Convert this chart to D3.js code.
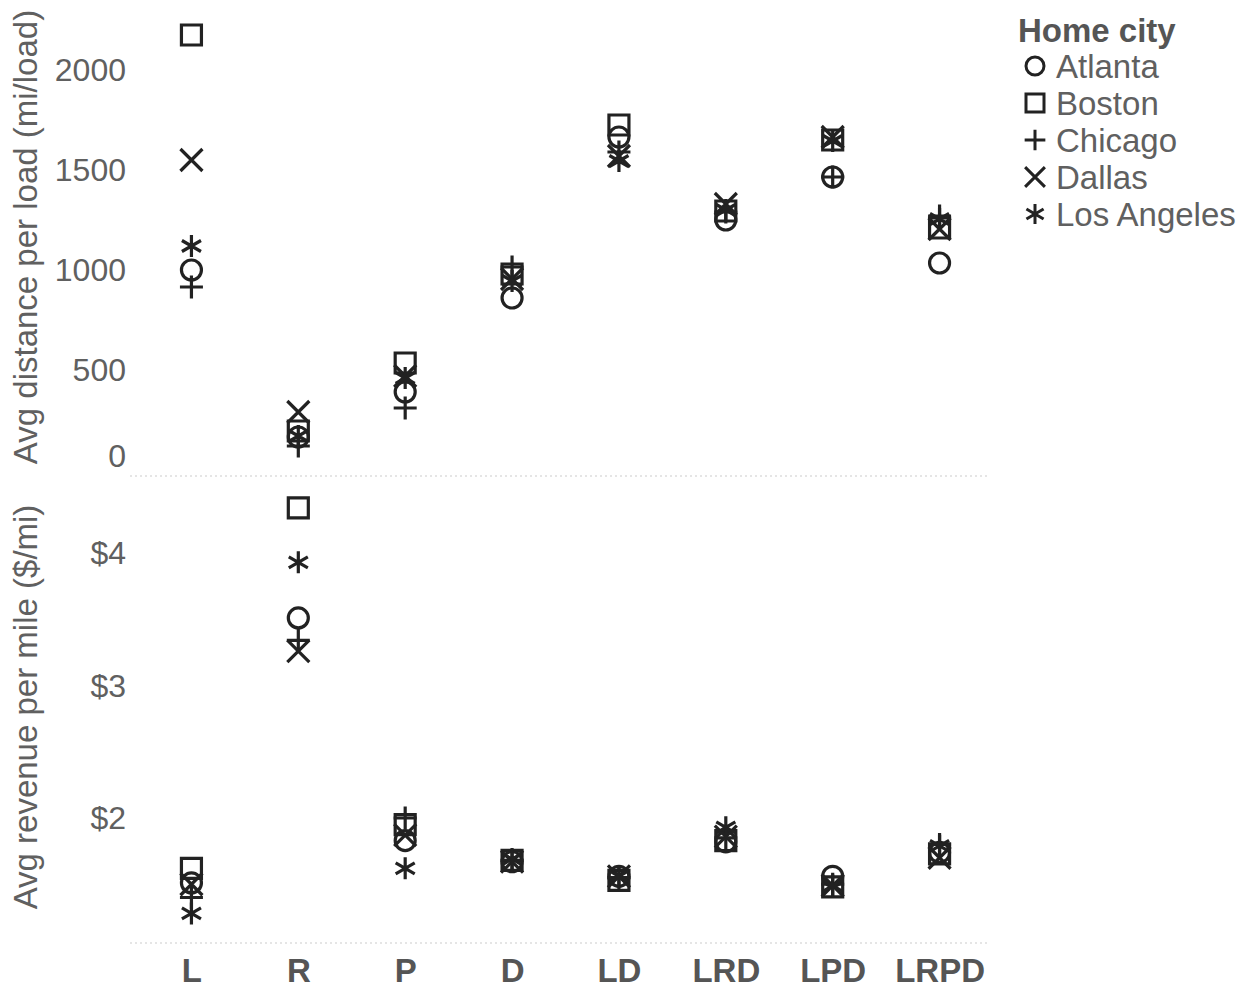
<!DOCTYPE html>
<html>
<head>
<meta charset="utf-8">
<script src="https://cdn.jsdelivr.net/npm/d3@7"></script>
<style>
  body { margin: 0; background: #fff; }
  svg { display: block; font-family: "Liberation Sans", Arial, sans-serif; }
</style>
</head>
<body>
<svg id="chart" width="1249" height="991"></svg>
<script>
// Load-combination strategies along the x axis
const categories = ["L", "R", "P", "D", "LD", "LRD", "LPD", "LRPD"];
const cities = ["Atlanta", "Boston", "Chicago", "Dallas", "Los Angeles"];

// Average distance per load (mi/load), one array per home city
const distAtlanta = [1000, 165, 390, 860, 1665, 1250, 1465, 1035];
const distBoston  = [2175, 195, 535, 980, 1725, 1295, 1650, 1210];
const distChicago = [915, 120, 310, 1015, 1590, 1290, 1465, 1270];
const distDallas  = [1550, 290, 470, 955, 1570, 1330, 1665, 1205];
const distLA      = [1120, 170, 460, 945, 1545, 1300, 1645, 1255];

// Average revenue per mile ($/mi)
const revAtlanta = [1.51, 3.51, 1.83, 1.67, 1.56, 1.82, 1.56, 1.74];
const revBoston  = [1.62, 4.34, 1.95, 1.68, 1.53, 1.83, 1.48, 1.73];
const revChicago = [1.40, 3.34, 2.00, 1.68, 1.55, 1.85, 1.50, 1.80];
const revDallas  = [1.50, 3.26, 1.87, 1.67, 1.56, 1.86, 1.49, 1.70];
const revLA      = [1.28, 3.93, 1.62, 1.69, 1.56, 1.93, 1.49, 1.79];

const distTicks = [0, 500, 1000, 1500, 2000];
const revTicks = [2, 3, 4];

const distSeries = [distAtlanta, distBoston, distChicago, distDallas, distLA];
const revSeries = [revAtlanta, revBoston, revChicago, revDallas, revLA];

const svg = d3.select("#chart");
const ink = "#222";
const textGray = "#606060";

const x = d3.scalePoint().domain(categories).range([138, 993]).padding(0.5);
const yDist = d3.scaleLinear().domain([0, 2000]).range([470, 70]);
const yRev = d3.scaleLinear().domain([2, 4]).range([818, 553]);

// Marker shapes keyed by city, drawn as paths around (0,0)
function markerPath(city, s) {
  const h = s / 2;
  const p = d3.path();
  if (city === "Atlanta") {
    p.moveTo(h, 0); p.arc(0, 0, h, 0, Math.PI * 2);
  } else if (city === "Boston") {
    p.rect(-h, -h, s, s);
  } else if (city === "Chicago") {
    const a = h * 1.15;
    p.moveTo(-a, 0); p.lineTo(a, 0); p.moveTo(0, -a); p.lineTo(0, a);
  } else if (city === "Dallas") {
    const a = h * 1.1;
    p.moveTo(-a, -a); p.lineTo(a, a); p.moveTo(-a, a); p.lineTo(a, -a);
  } else {
    const a = h * 1.1;
    for (let k = 0; k < 3; k++) {
      const ang = Math.PI / 2 + k * Math.PI / 3;
      p.moveTo(Math.cos(ang) * a, Math.sin(ang) * a);
      p.lineTo(-Math.cos(ang) * a, -Math.sin(ang) * a);
    }
  }
  return p.toString();
}

function drawPanel(series, yScale, ticks, fmt, title, titleY, nudgeZero) {
  const g = svg.append("g");
  const axis = d3.axisLeft(yScale).tickValues(ticks).tickFormat(fmt).tickSize(0).tickPadding(0);
  const ax = g.append("g").attr("transform", "translate(126,0)").call(axis);
  ax.select(".domain").remove();
  ax.selectAll("text")
    .attr("fill", textGray)
    .style("font-size", "32px")
    .attr("dy", d => (nudgeZero && d === 0) ? "-0.1em" : "0.34em");

  g.append("text")
    .attr("transform", `translate(37,${titleY}) rotate(-90)`)
    .attr("text-anchor", "middle")
    .attr("fill", textGray)
    .style("font-size", "33px")
    .text(title);

  series.forEach((vals, ci) => {
    g.append("g").selectAll("path")
      .data(vals)
      .join("path")
      .attr("transform", (v, i) => `translate(${x(categories[i])},${yScale(v)})`)
      .attr("d", markerPath(cities[ci], 20))
      .attr("fill", "none")
      .attr("stroke", ink)
      .attr("stroke-width", 3.2);
  });
}

drawPanel(distSeries, yDist, distTicks, d3.format("d"),
  "Avg distance per load (mi/load)", 237, true);
drawPanel(revSeries, yRev, revTicks, d => "$" + d,
  "Avg revenue per mile ($/mi)", 707, false);

// Faint panel baselines
[476, 943].forEach(yy => {
  svg.append("line")
    .attr("x1", 130).attr("x2", 990).attr("y1", yy).attr("y2", yy)
    .attr("stroke", "#ddd").attr("stroke-width", 1.5)
    .attr("stroke-dasharray", "2,3");
});

// Category axis
const xAxis = d3.axisBottom(x).tickSize(0).tickPadding(0);
const xg = svg.append("g").attr("transform", "translate(0,970)").call(xAxis);
xg.select(".domain").remove();
xg.selectAll("text")
  .attr("fill", "#555")
  .attr("dy", "0.36em")
  .style("font-size", "33px")
  .style("font-weight", "bold");

// Legend
const lg = svg.append("g").attr("transform", "translate(1018,0)");
lg.append("text")
  .attr("x", 0).attr("y", 42)
  .attr("fill", "#555")
  .style("font-size", "33px")
  .style("font-weight", "bold")
  .text("Home city");
cities.forEach((c, i) => {
  const cy = 66 + i * 37;
  lg.append("path")
    .attr("transform", `translate(17,${cy})`)
    .attr("d", markerPath(c, 18))
    .attr("fill", "none")
    .attr("stroke", ink)
    .attr("stroke-width", 3);
  lg.append("text")
    .attr("x", 38).attr("y", cy)
    .attr("dy", "0.35em")
    .attr("fill", textGray)
    .style("font-size", "33px")
    .text(c);
});
</script>
</body>
</html>
